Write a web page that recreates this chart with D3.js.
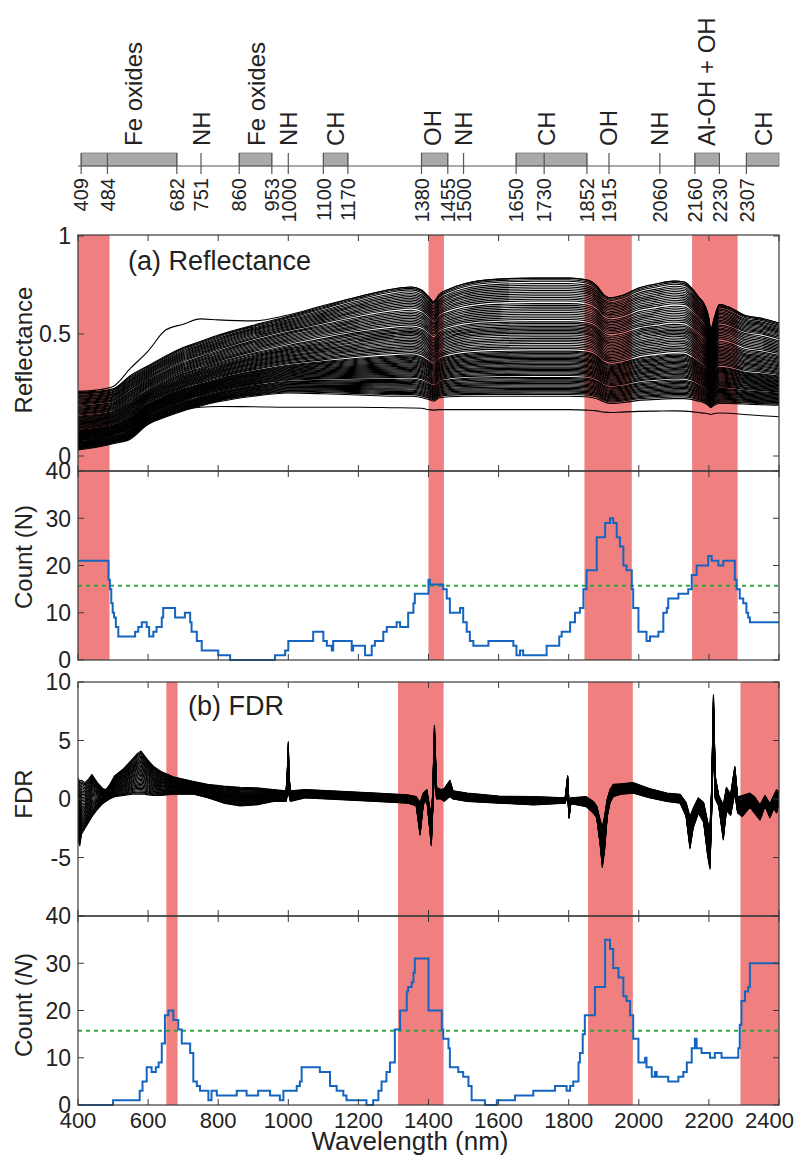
<!DOCTYPE html>
<html>
<head>
<meta charset="utf-8">
<script src="https://cdn.jsdelivr.net/npm/d3@7"></script>
<style>
	body { margin: 0; background: #fff; }
	svg text { font-family: 'Liberation Sans', Arial, sans-serif; fill: #222; }
</style>
</head>
<body>
<div id="chart"></div>
<script>
// absorption features shown above the plots
const annotTicks = [409, 484, 682, 751, 860, 953, 1000, 1100, 1170, 1380, 1455, 1500, 1650, 1730, 1852, 1915, 2060, 2160, 2230, 2307];
const annotBars = [[409, 682], [860, 953], [1100, 1170], [1380, 1455], [1650, 1852], [2160, 2230], [2307, 2400]];
const annotNames = ['Fe oxides', 'NH', 'Fe oxides', 'NH', 'CH', 'OH', 'NH', 'CH', 'OH', 'NH', 'Al-OH + OH', 'CH'];
const annotNamePos = [557, 751, 908, 1000, 1135, 1412, 1500, 1735, 1912, 2058, 2192, 2356];

// selected bands (red)
const bandsA = [[400, 490], [1400, 1444], [1845, 1980], [2152, 2282]];
const bandsB = [[652, 684], [1313, 1443], [1855, 1983], [2290, 2400]];

// reflectance envelope
const reflWl = [400, 450, 500, 550, 600, 650, 700, 750, 800, 900,
	1000, 1100, 1200, 1300, 1350, 1380, 1400, 1415, 1430, 1460,
	1500, 1600, 1700, 1800, 1850, 1880, 1900, 1920, 1950, 2000,
	2050, 2100, 2130, 2150, 2170, 2190, 2200, 2205, 2215, 2230,
	2260, 2300, 2350, 2400];
const reflHigh = [0.26, 0.265, 0.275, 0.33, 0.37, 0.41, 0.445, 0.47, 0.496, 0.545,
	0.59, 0.64, 0.69, 0.73, 0.74, 0.725, 0.69, 0.665, 0.70, 0.73,
	0.755, 0.78, 0.785, 0.785, 0.776, 0.745, 0.70, 0.685, 0.695, 0.735,
	0.755, 0.77, 0.765, 0.735, 0.69, 0.64, 0.58, 0.52, 0.58, 0.65,
	0.635, 0.597, 0.58, 0.556];
const reflLow = [0.025, 0.035, 0.05, 0.07, 0.13, 0.16, 0.185, 0.205, 0.222, 0.245,
	0.258, 0.255, 0.25, 0.245, 0.245, 0.24, 0.232, 0.225, 0.238, 0.243,
	0.245, 0.245, 0.245, 0.245, 0.243, 0.235, 0.222, 0.215, 0.218, 0.228,
	0.232, 0.235, 0.235, 0.232, 0.225, 0.215, 0.205, 0.198, 0.208, 0.215,
	0.215, 0.213, 0.21, 0.208];
const reflOutlierHigh = [0.265, 0.27, 0.285, 0.36, 0.43, 0.52, 0.55, 0.577, 0.572, 0.567,
	0.597, 0.645, 0.69, 0.73, 0.74, 0.725, 0.69, 0.665, 0.70, 0.73,
	0.755, 0.78, 0.785, 0.785, 0.776, 0.745, 0.70, 0.685, 0.695, 0.735,
	0.755, 0.77, 0.765, 0.735, 0.69, 0.64, 0.58, 0.52, 0.58, 0.65,
	0.635, 0.597, 0.58, 0.556];
const reflOutlierLow = [0.05, 0.055, 0.065, 0.08, 0.13, 0.165, 0.19, 0.2, 0.203, 0.202,
	0.2, 0.2, 0.2, 0.198, 0.197, 0.196, 0.19, 0.188, 0.19, 0.19,
	0.19, 0.19, 0.19, 0.19, 0.188, 0.185, 0.18, 0.178, 0.18, 0.183,
	0.184, 0.185, 0.184, 0.182, 0.178, 0.175, 0.172, 0.17, 0.174, 0.176,
	0.175, 0.17, 0.165, 0.161];
// reflectance of each sample at 1700 nm
const reflLevels = [0.785, 0.777, 0.769, 0.758, 0.749, 0.74, 0.731, 0.722, 0.713, 0.704,
	0.695, 0.686, 0.677, 0.668, 0.655, 0.646, 0.637, 0.628, 0.619, 0.61,
	0.601, 0.592, 0.583, 0.574, 0.562, 0.554, 0.546, 0.538, 0.531, 0.524,
	0.517, 0.51, 0.503, 0.496, 0.489, 0.482, 0.475, 0.468, 0.461, 0.454,
	0.447, 0.44, 0.43, 0.425, 0.42, 0.415, 0.41, 0.405, 0.4, 0.395,
	0.39, 0.385, 0.38, 0.375, 0.37, 0.365, 0.36, 0.355, 0.35, 0.345,
	0.34, 0.335, 0.33, 0.322, 0.317, 0.312, 0.307, 0.302, 0.297, 0.292,
	0.287, 0.282, 0.277, 0.272, 0.267, 0.262, 0.257, 0.252, 0.245];

// FDR envelope
const fdrWl = [400, 405, 410, 420, 430, 440, 455, 470, 480, 490,
	505, 530, 555, 570, 580, 590, 600, 615, 640, 672,
	730, 770, 815, 862, 910, 958, 994, 998, 1000, 1002,
	1006, 1050, 1150, 1250, 1340, 1365, 1376, 1385, 1395, 1408,
	1412, 1417, 1423, 1435, 1445, 1461, 1470, 1510, 1600, 1700,
	1790, 1797, 1801, 1806, 1850, 1870, 1880, 1890, 1896, 1902,
	1910, 1918, 1927, 1950, 1984, 2030, 2080, 2118, 2135, 2146,
	2155, 2170, 2185, 2197, 2203, 2208, 2213, 2218, 2228, 2241,
	2250, 2262, 2274, 2282, 2295, 2317, 2330, 2346, 2360, 2374,
	2385, 2393, 2400];
const fdrUpper = [1.8, 1.5, 1.6, 1.4, 1.7, 2.1, 1.4, 0.9, 0.8, 1.2,
	2.0, 2.6, 3.4, 3.9, 4.1, 3.7, 3.3, 2.8, 2.3, 1.9,
	1.5, 1.25, 1.1, 1.0, 0.95, 0.8, 0.7, 3.0, 4.9, 2.0,
	0.7, 0.8, 0.65, 0.5, 0.35, 0.2, -0.3, 0.5, 0.8, -1.5,
	0.5, 6.3, 1.0, 0.8, 0.9, 1.6, 0.7, 0.5, 0.25, 0.2,
	0.1, 2.0, -0.5, 0.1, 0.2, -0.2, -0.6, -1.8, -2.4, -1.5,
	0.0, 0.8, 1.25, 1.3, 1.4, 0.9, 0.5, 0.4, -0.3, -1.5,
	-0.8, 0.1, -0.3, -2.0, -2.5, 1.0, 8.9, 2.0, 0.3, -0.5,
	1.0, 0.4, 2.8, 0.2, 0.3, 0.5, 0.2, -0.5, 0.3, -0.4,
	0.3, 0.8, 0.6];
const fdrLower = [-3.5, -4.0, -3.0, -2.5, -2.0, -1.5, -0.9, -0.4, -0.2, 0.0,
	0.2, 0.3, 0.4, 0.4, 0.4, 0.4, 0.35, 0.3, 0.3, 0.4,
	0.4, 0.1, -0.35, -0.6, -0.5, -0.2, -0.2, 0.5, 2.0, 0.3,
	-0.2, 0.1, -0.05, -0.2, -0.35, -0.6, -3.1, -0.5, 0.0, -4.0,
	-1.0, 2.5, 0.0, 0.0, -0.2, 0.2, 0.0, -0.2, -0.35, -0.5,
	-0.35, 0.5, -1.65, -0.4, -0.65, -1.2, -1.6, -4.0, -5.85, -4.5,
	-1.5, -0.3, 0.2, 0.4, 0.5, 0.1, -0.2, -0.35, -1.5, -4.25,
	-2.5, -1.2, -2.0, -5.0, -6.0, -1.0, 5.0, 0.0, -0.6, -3.5,
	-1.0, -1.4, 0.5, -1.2, -1.5, -0.7, -1.2, -1.8, -0.6, -1.6,
	-0.8, -1.2, -0.4];
// where each sample sits between the two FDR envelopes
const fdrLevels = [0, 0.03, 0.05, 0.08, 0.11, 0.14, 0.17, 0.2, 0.23, 0.26,
	0.29, 0.32, 0.35, 0.38, 0.41, 0.44, 0.47, 0.5, 0.53, 0.56,
	0.59, 0.62, 0.65, 0.68, 0.71, 0.74, 0.77, 0.8, 0.83, 0.86,
	0.89, 0.92, 0.95, 0.97, 1];

// count steps: [start wavelength, count]
const countRefl = [[400, 21], [487, 17], [491, 15], [495, 12], [499, 10], [503, 9], [508, 7], [515, 5], [563, 6], [572, 7],
	[582, 8], [596, 7], [603, 5], [615, 6], [624, 7], [639, 9], [643, 11], [677, 9], [705, 10], [720, 8],
	[724, 6], [739, 4], [753, 2], [800, 1], [834, 0], [962, 1], [991, 2], [1000, 4], [1071, 6], [1100, 4],
	[1110, 3], [1124, 2], [1128, 4], [1181, 2], [1185, 3], [1219, 1], [1238, 3], [1247, 4], [1271, 6], [1281, 7],
	[1309, 8], [1319, 7], [1342, 10], [1357, 12], [1361, 14], [1400, 17], [1404, 16], [1442, 15], [1452, 13], [1461, 10],
	[1490, 11], [1499, 8], [1509, 6], [1518, 4], [1528, 3], [1571, 4], [1642, 3], [1651, 1], [1661, 2], [1670, 1],
	[1737, 3], [1773, 5], [1780, 6], [1804, 8], [1818, 10], [1832, 11], [1842, 15], [1851, 19], [1880, 26], [1904, 29],
	[1918, 30], [1927, 29], [1937, 26], [1946, 24], [1956, 20], [1965, 19], [1980, 15], [1984, 11], [1999, 6], [2022, 4],
	[2032, 5], [2056, 6], [2070, 10], [2080, 11], [2084, 13], [2113, 14], [2141, 15], [2151, 18], [2165, 20], [2198, 22],
	[2208, 21], [2227, 20], [2241, 21], [2274, 17], [2279, 15], [2288, 13], [2298, 12], [2307, 10], [2312, 9], [2317, 8]];
const countFdr = [[400, 0], [500, 1], [576, 3], [584, 5], [596, 8], [610, 7], [622, 8], [630, 9], [639, 13], [648, 19],
	[658, 20], [672, 18], [686, 16], [696, 13], [720, 11], [729, 5], [739, 4], [748, 3], [772, 1], [781, 3],
	[796, 2], [853, 3], [881, 2], [914, 3], [948, 2], [976, 1], [986, 3], [1024, 4], [1033, 5], [1038, 8],
	[1090, 7], [1119, 4], [1138, 3], [1157, 2], [1166, 1], [1223, 0], [1242, 1], [1257, 3], [1266, 5], [1280, 7],
	[1290, 9], [1304, 16], [1319, 20], [1338, 24], [1342, 25], [1352, 26], [1357, 28], [1361, 31], [1400, 20], [1438, 16],
	[1442, 14], [1457, 12], [1461, 8], [1485, 7], [1499, 6], [1514, 4], [1523, 1], [1561, 0], [1595, 1], [1647, 2],
	[1699, 3], [1761, 4], [1794, 3], [1804, 4], [1813, 5], [1828, 9], [1832, 11], [1840, 15], [1846, 19], [1875, 25],
	[1904, 35], [1918, 33], [1927, 29], [1942, 27], [1956, 23], [1965, 22], [1975, 19], [1984, 14], [1999, 9], [2018, 10],
	[2022, 8], [2037, 6], [2046, 7], [2051, 6], [2084, 5], [2113, 6], [2127, 7], [2137, 9], [2151, 12], [2160, 14],
	[2165, 12], [2179, 11], [2203, 10], [2217, 11], [2236, 10], [2284, 12], [2288, 17], [2293, 22], [2303, 24], [2312, 25],
	[2317, 30]];
const countThreshold = 15.7;

const xTicks = [400, 600, 800, 1000, 1200, 1400, 1600, 1800, 2000, 2200, 2400];

const config = {
	width: 801,
	height: 1156,
	left: 78,
	right: 779,
	tick: 6,
	red: '#f08080',
	blue: '#1565c0',
	green: '#33a343',
	axis: '#3a3a3a'
};

const x = d3.scaleLinear().domain([400, 2400]).range([config.left, config.right]);

// the published reflectance axis is not evenly spaced, so use its own tick positions
const panels = {
	refl: { top: 235, bottom: 471, y: d3.scaleLinear().domain([-0.062, 0, 0.5, 1]).range([471, 456, 334, 236]), ticks: [0, 0.5, 1] },
	count1: { top: 471, bottom: 660, y: d3.scaleLinear().domain([0, 40]).range([660, 471]), ticks: [0, 10, 20, 30, 40] },
	fdr: { top: 682, bottom: 916, y: d3.scaleLinear().domain([-10, 10]).range([916, 682]), ticks: [-10, -5, 0, 5, 10], labels: [-5, 0, 5, 10] },
	count2: { top: 916, bottom: 1105, y: d3.scaleLinear().domain([0, 40]).range([1105, 916]), ticks: [0, 10, 20, 30, 40] }
};

const svg = d3.select('#chart')
	.append('svg')
	.attr('width', config.width)
	.attr('height', config.height);

svg.append('rect')
	.attr('width', config.width)
	.attr('height', config.height)
	.attr('fill', '#fff');

drawAnnotations();

Object.entries(panels).forEach(([key, p]) => {
	svg.append('clipPath')
		.attr('id', `clip-${key}`)
		.append('rect')
			.attr('x', config.left)
			.attr('y', p.top)
			.attr('width', config.right - config.left)
			.attr('height', p.bottom - p.top);
});

drawBands(panels.refl, bandsA);
drawBands(panels.count1, bandsA);
drawBands(panels.fdr, bandsB);
drawBands(panels.count2, bandsB);

drawReflectance(panels.refl);
drawFdr(panels.fdr);
drawCount(panels.count1, countRefl);
drawCount(panels.count2, countFdr);

Object.values(panels).forEach(p => drawFrame(p));

// x tick labels at the bottom (last one kept inside the page)
svg.append('g')
	.selectAll('text')
	.data(xTicks)
	.enter()
	.append('text')
		.attr('x', d => d === 2400 ? 794 : x(d))
		.attr('y', 1128)
		.attr('text-anchor', d => d === 2400 ? 'end' : 'middle')
		.style('font-size', '22px')
		.text(d => d);

svg.append('text')
	.attr('x', 410)
	.attr('y', 1150)
	.attr('text-anchor', 'middle')
	.style('font-size', '26px')
	.text('Wavelength (nm)');

// axis titles
yTitle('Reflectance', 350);
yTitle('Count (N)', 557);
yTitle('FDR', 794);
const c2 = yTitle('Count (', 1005);
c2.append('tspan').style('font-style', 'italic').text('N');
c2.append('tspan').text(')');

svg.append('text')
	.attr('x', 128)
	.attr('y', 270)
	.style('font-size', '27px')
	.text('(a) Reflectance');

svg.append('text')
	.attr('x', 188)
	.attr('y', 715)
	.style('font-size', '27px')
	.text('(b) FDR');


function yTitle(label, cy) {
	return svg.append('text')
		.attr('transform', `translate(24,${cy}) rotate(-90)`)
		.attr('text-anchor', 'middle')
		.attr('dy', '0.35em')
		.style('font-size', '24px')
		.text(label);
}

function drawAnnotations() {
	const g = svg.append('g');
	const lineY = 166;

	g.selectAll('.bar')
		.data(annotBars)
		.enter()
		.append('rect')
			.attr('x', d => x(d[0]))
			.attr('y', 153)
			.attr('width', d => x(d[1]) - x(d[0]))
			.attr('height', lineY - 153)
			.attr('fill', '#a9a9a9')
			.attr('stroke', '#7a7a7a')
			.attr('stroke-width', 0.8);

	g.append('line')
		.attr('x1', config.left)
		.attr('x2', config.right)
		.attr('y1', lineY)
		.attr('y2', lineY)
		.attr('stroke', '#555')
		.attr('stroke-width', 1.2);

	g.selectAll('.tick')
		.data(annotTicks)
		.enter()
		.append('line')
			.attr('x1', d => x(d))
			.attr('x2', d => x(d))
			.attr('y1', 153)
			.attr('y2', 174)
			.attr('stroke', '#555')
			.attr('stroke-width', 1.2);

	g.selectAll('.ticklabel')
		.data(annotTicks)
		.enter()
		.append('text')
			.attr('transform', d => `translate(${x(d)},178) rotate(-90)`)
			.attr('text-anchor', 'end')
			.attr('dy', '0.36em')
			.style('font-size', '20px')
			.text(d => d);

	g.selectAll('.name')
		.data(annotNames)
		.enter()
		.append('text')
			.attr('transform', (d, i) => `translate(${x(annotNamePos[i])},146) rotate(-90)`)
			.attr('text-anchor', 'start')
			.attr('dy', '0.36em')
			.style('font-size', '24px')
			.text(d => d);
}

function drawBands(p, bands) {
	svg.append('g')
		.selectAll('rect')
		.data(bands)
		.enter()
		.append('rect')
			.attr('x', d => x(d[0]))
			.attr('y', p.top)
			.attr('width', d => x(d[1]) - x(d[0]))
			.attr('height', p.bottom - p.top)
			.attr('fill', config.red);
}

function drawReflectance(p) {
	const i1700 = reflWl.indexOf(1700);
	const lo = reflLow[i1700];
	const hi = reflHigh[i1700];
	const line = d3.line()
		.x(d => x(d[0]))
		.y(d => p.y(d[1]))
		.curve(d3.curveMonotoneX);

	const curves = reflLevels.map(level => {
		const f = (level - lo) / (hi - lo);
		return reflWl.map((w, i) => [w, reflLow[i] + f * (reflHigh[i] - reflLow[i])]);
	});
	curves.push(reflWl.map((w, i) => [w, reflOutlierHigh[i]]));
	curves.push(reflWl.map((w, i) => [w, reflOutlierLow[i]]));

	svg.append('g')
		.attr('clip-path', 'url(#clip-refl)')
		.selectAll('path')
		.data(curves)
		.enter()
		.append('path')
			.attr('d', line)
			.attr('fill', 'none')
			.attr('stroke', '#000')
			.attr('stroke-width', 1.1);
}

function drawFdr(p) {
	const line = d3.line()
		.x(d => x(d[0]))
		.y(d => p.y(d[1]));

	const curves = fdrLevels.map(f => fdrWl.map((w, i) => [w, fdrLower[i] + f * (fdrUpper[i] - fdrLower[i])]));

	svg.append('g')
		.attr('clip-path', 'url(#clip-fdr)')
		.selectAll('path')
		.data(curves)
		.enter()
		.append('path')
			.attr('d', line)
			.attr('fill', 'none')
			.attr('stroke', '#000')
			.attr('stroke-width', 1.1)
			.attr('stroke-linejoin', 'round');
}

function drawCount(p, steps) {
	const g = svg.append('g');

	g.append('line')
		.attr('x1', config.left)
		.attr('x2', config.right)
		.attr('y1', p.y(countThreshold))
		.attr('y2', p.y(countThreshold))
		.attr('stroke', config.green)
		.attr('stroke-width', 2)
		.attr('stroke-dasharray', '4,4');

	const pts = steps.concat([[2400, steps[steps.length - 1][1]]]);
	const line = d3.line()
		.x(d => x(d[0]))
		.y(d => p.y(d[1]))
		.curve(d3.curveStepAfter);

	g.append('path')
		.attr('d', line(pts))
		.attr('fill', 'none')
		.attr('stroke', config.blue)
		.attr('stroke-width', 2);
}

function drawFrame(p) {
	const g = svg.append('g');
	const t = config.tick;

	g.append('rect')
		.attr('x', config.left)
		.attr('y', p.top)
		.attr('width', config.right - config.left)
		.attr('height', p.bottom - p.top)
		.attr('fill', 'none')
		.attr('stroke', config.axis)
		.attr('stroke-width', 1.2);

	// x ticks on top and bottom, pointing inward
	xTicks.forEach(v => {
		g.append('line').attr('x1', x(v)).attr('x2', x(v)).attr('y1', p.top).attr('y2', p.top + t).attr('stroke', config.axis);
		g.append('line').attr('x1', x(v)).attr('x2', x(v)).attr('y1', p.bottom).attr('y2', p.bottom - t).attr('stroke', config.axis);
	});

	p.ticks.forEach(v => {
		g.append('line').attr('x1', config.left).attr('x2', config.left + t).attr('y1', p.y(v)).attr('y2', p.y(v)).attr('stroke', config.axis);
		g.append('line').attr('x1', config.right).attr('x2', config.right - t).attr('y1', p.y(v)).attr('y2', p.y(v)).attr('stroke', config.axis);
	});

	g.selectAll('text')
		.data(p.labels || p.ticks)
		.enter()
		.append('text')
			.attr('x', 71)
			.attr('y', d => p.y(d))
			.attr('dy', '0.36em')
			.attr('text-anchor', 'end')
			.style('font-size', '23px')
			.text(d => d);
}
</script>
</body>
</html>
